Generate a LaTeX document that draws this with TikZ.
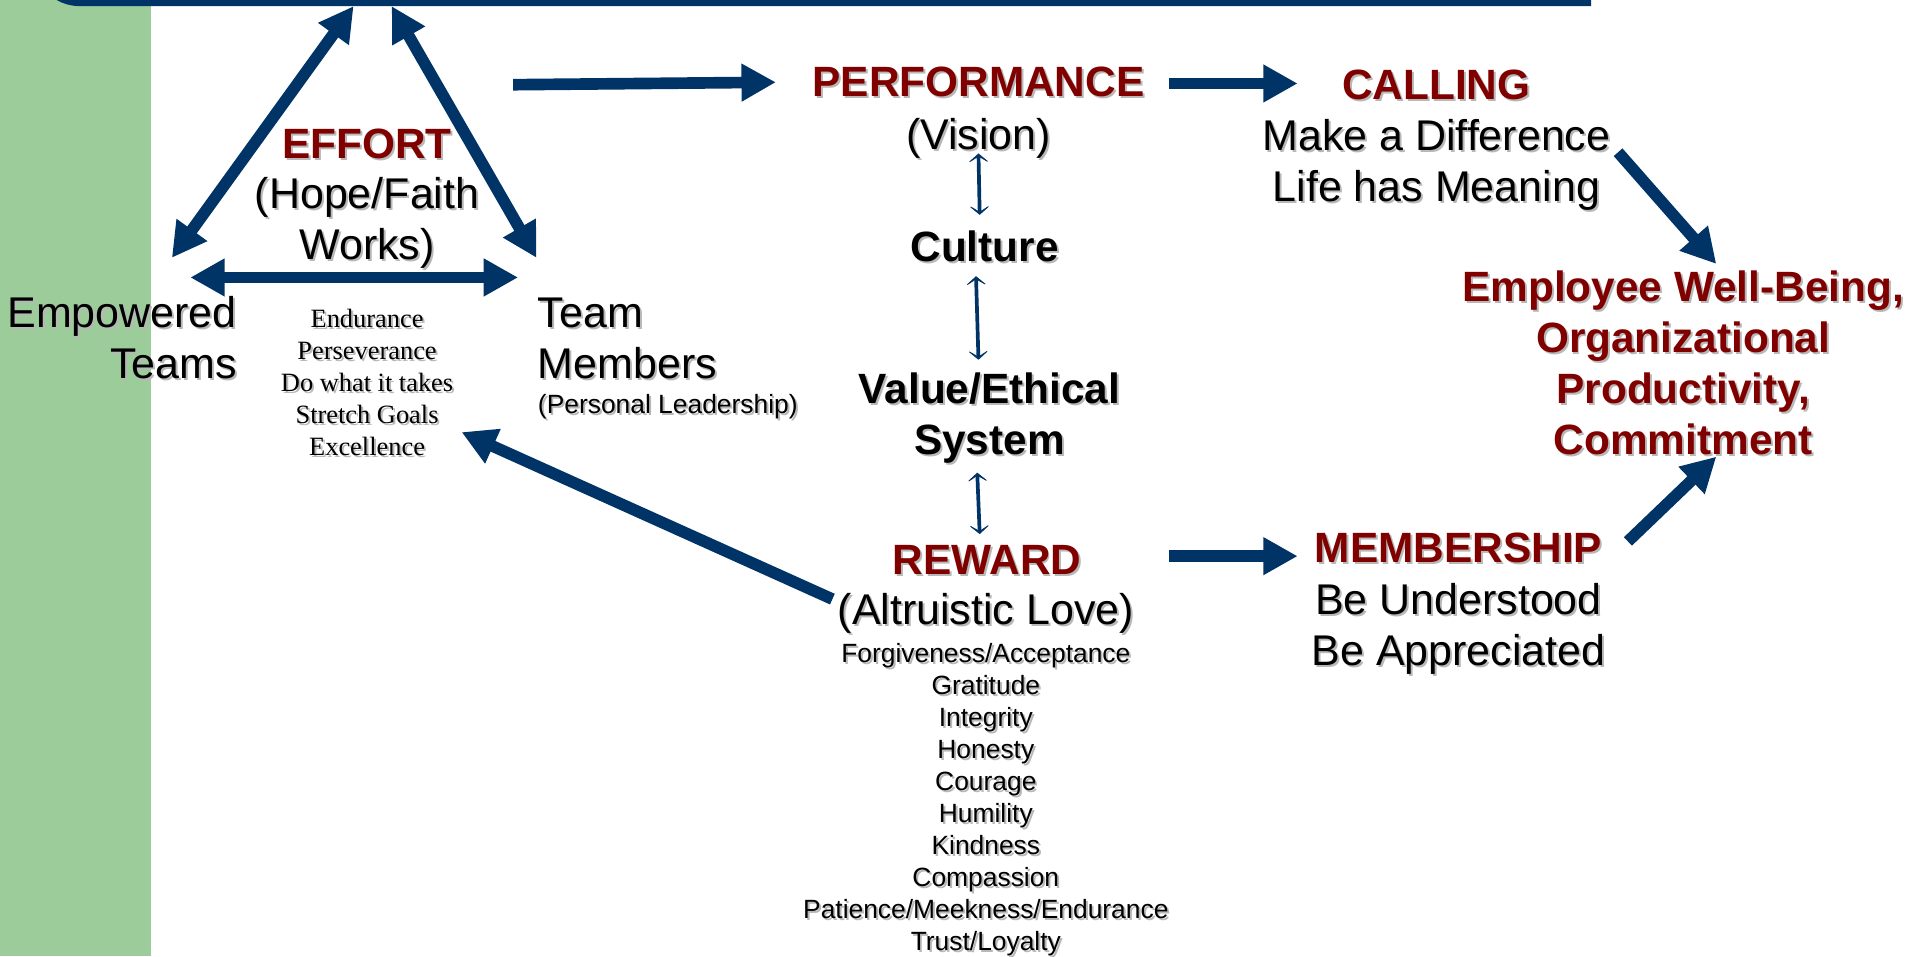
\documentclass[tikz,border=0pt]{standalone}
\usepackage{fontspec}
\setmainfont{Liberation Sans}
\newfontfamily\timesfont{Liberation Serif}
\usetikzlibrary{arrows.meta,calc}
\definecolor{navy}{RGB}{0,51,102}
\definecolor{maroon}{RGB}{128,0,0}
\definecolor{leaf}{RGB}{155,204,153}
\definecolor{shade}{gray}{0.72}
% text with a soft drop shadow
\newcommand\sh[1]{\makebox[0pt][l]{\kern1.6bp\raisebox{-1.6bp}{\textcolor{shade}{#1}}}#1}
% multi-line nodes sit on the baseline of their last line
\tikzset{
  big/.style={inner sep=0pt, anchor=base, align=center, font=\fontsize{35bp}{41.5bp}\selectfont},
  head/.style={big, text=maroon, font=\fontsize{34.5bp}{41.5bp}\selectfont\bfseries},
  blackhead/.style={big, font=\fontsize{34.5bp}{41.5bp}\selectfont\bfseries},
  small/.style={inner sep=0pt, anchor=base, align=center, font=\fontsize{21.5bp}{26bp}\selectfont},
  serifsmall/.style={small, font=\fontsize{21.5bp}{26bp}\selectfont\timesfont},
  fat/.tip={Triangle[length=28bp,width=29bp]},
  slim/.tip={Stealth[length=9bp,width=21bp,inset=6.5bp]},
  bigarrow/.style={navy, line width=9.5bp, -fat},
  bigboth/.style={navy, line width=9.5bp, fat-fat},
  thinboth/.style={navy, line width=3bp, slim-slim}
}
\begin{document}
\begin{tikzpicture}[x=1bp,y=-1bp]
\useasboundingbox (0,0) rectangle (1568,779);
\clip (0,0) rectangle (1568,779);
\fill[white] (0,0) rectangle (1568,779);
% green side strip and top bar
\fill[leaf] (0,0) rectangle (123,779);
\fill[navy] (1296,-60) -- (1296,5) [rounded corners=38bp] -- (27,5) -- (27,-60) -- cycle;

% effort triangle
\node[head] (effort) at (299,129) {\sh{EFFORT}};
\node[big] (hope) at (299,211) {\sh{(Hope/Faith}\\\sh{Works)}};
\node[serifsmall] (traits) at (299,371) {\sh{Endurance}\\\sh{Perseverance}\\\sh{Do what it takes}\\\sh{Stretch Goals}\\\sh{Excellence}};
\node[big, anchor=base east, align=right] (teams) at (193,308) {\sh{Empowered}\\\sh{Teams}};
\node[big, anchor=base west, align=left] (members) at (438,308) {\sh{Team}\\\sh{Members}};
\node[small, anchor=base west] (leader) at (438,337) {\sh{(Personal Leadership)}};

% centre column
\node[head] (perf) at (797,79) {\sh{PERFORMANCE}};
\node[big] (vision) at (797,122) {\sh{(Vision)}};
\node[blackhead] (culture) at (802,213) {\sh{Culture}};
\node[blackhead] (values) at (806,370) {\sh{Value/Ethical}\\\sh{System}};
\node[head] (reward) at (804,468) {\sh{REWARD}};
\node[big] (love) at (803,509) {\sh{(Altruistic Love)}};
\node[small] (virtues) at (803,774) {\sh{Forgiveness/Acceptance}\\\sh{Gratitude}\\\sh{Integrity}\\\sh{Honesty}\\\sh{Courage}\\\sh{Humility}\\\sh{Kindness}\\\sh{Compassion}\\\sh{Patience/Meekness/Endurance}\\\sh{Trust/Loyalty}};

% right column
\node[head] (calling) at (1170,81) {\sh{CALLING}};
\node[big] (meaning) at (1170,164) {\sh{Make a Difference}\\\sh{Life has Meaning}};
\node[head] (outcome) at (1371,370) {\sh{Employee Well-Being,}\\\sh{Organizational}\\\sh{Productivity,}\\\sh{Commitment}};
\node[head] (member) at (1188,458) {\sh{MEMBERSHIP}};
\node[big] (belong) at (1188,542) {\sh{Be Understood}\\\sh{Be Appreciated}};

% arrow end points
\coordinate (apexL) at (288,5);
\coordinate (apexR) at (319,5);
\coordinate (teamsTip) at (140,210);
\coordinate (membersTip) at (437,210);
\coordinate (baseL) at (155,226);
\coordinate (baseR) at (422,226);
\coordinate (effortOut) at (418,69);
\coordinate (perfIn) at (632,67);
\coordinate (perfOut) at (952,68);
\coordinate (callIn) at (1057,68);
\coordinate (callOut) at (1318,124);
\coordinate (outTop) at (1398,215);
\coordinate (memOut) at (1326,441);
\coordinate (outBottom) at (1398,372);
\coordinate (rewardOut) at (678,488);
\coordinate (traitsIn) at (376,352);
\coordinate (rewardRight) at (952,453);
\coordinate (memIn) at (1057,453);
\coordinate (visionLow) at (797,125);
\coordinate (cultureTop) at (798,175);
\coordinate (cultureLow) at (795,225);
\coordinate (valuesTop) at (797,293);
\coordinate (valuesLow) at (796,385);
\coordinate (rewardTop) at (798,435);

% connectors
\draw[bigboth] (teamsTip) -- (apexL);
\draw[bigboth] (membersTip) -- (apexR);
\draw[bigboth] (baseL) -- (baseR);
\draw[bigarrow] (effortOut) -- (perfIn);
\draw[bigarrow] (perfOut) -- (callIn);
\draw[bigarrow] (callOut) -- (outTop);
\draw[bigarrow] (memOut) -- (outBottom);
\draw[bigarrow] (rewardOut) -- (traitsIn);
\draw[bigarrow] (rewardRight) -- (memIn);
\draw[thinboth] (visionLow) -- (cultureTop);
\draw[thinboth] (cultureLow) -- (valuesTop);
\draw[thinboth] (valuesLow) -- (rewardTop);
\end{tikzpicture}
\end{document}
